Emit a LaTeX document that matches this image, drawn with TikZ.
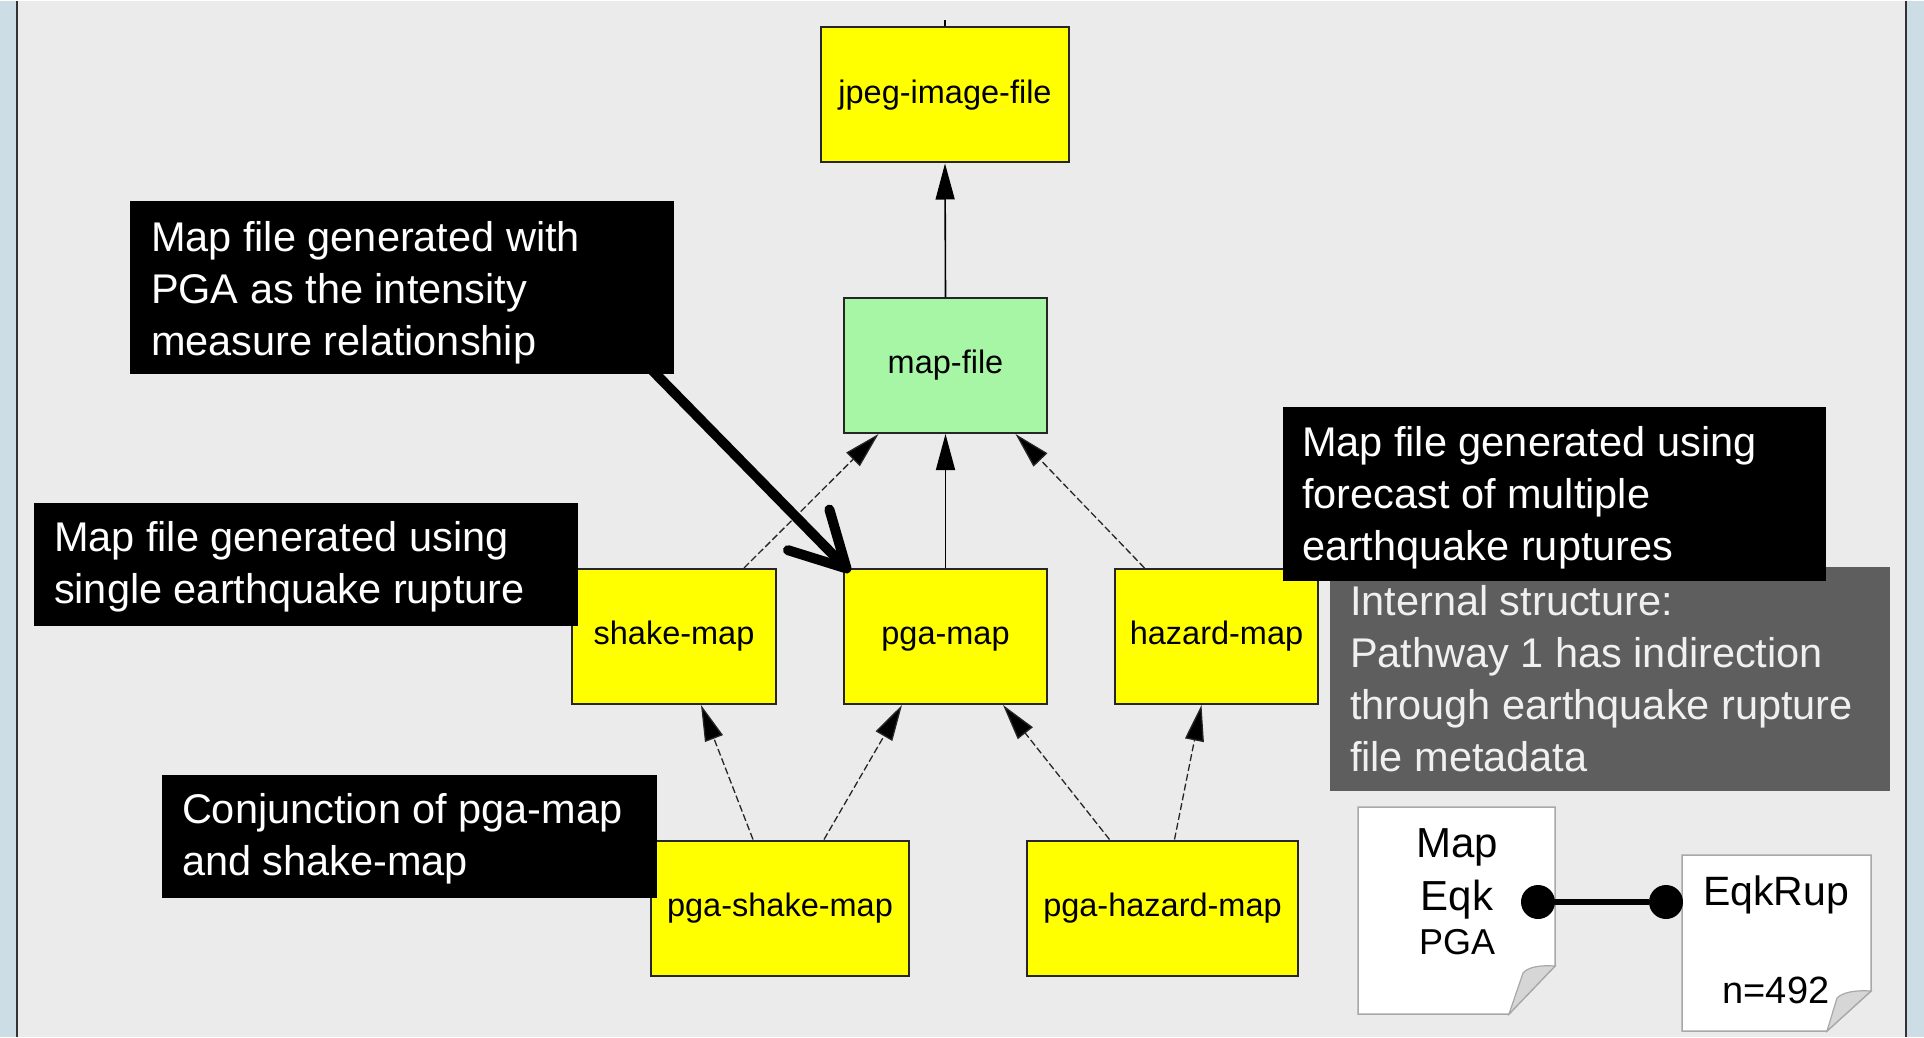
\documentclass[tikz,border=0pt]{standalone}
\usepackage{fontspec}
\setmainfont{Liberation Sans}
\usetikzlibrary{arrows.meta}

\definecolor{framebg}{HTML}{CCDDE5}
\definecolor{panelbg}{HTML}{EBEBEB}
\definecolor{nodeyellow}{HTML}{FFFF00}
\definecolor{nodegreen}{HTML}{A6F6A6}
\definecolor{notegray}{HTML}{5E5E5E}
\definecolor{paperedge}{HTML}{A8A8A8}
\definecolor{foldgray}{HTML}{D6D6D6}

\begin{document}
\begin{tikzpicture}[x=1pt,y=-1pt,
  artifact/.style={draw=black!85, line width=2pt, minimum width=#1,
    minimum height=135pt, inner sep=0pt, text=black,
    text height=23.7pt, text depth=6.8pt,
    font=\fontsize{32.5}{39}\selectfont},
  dep/.style={line width=1.6pt, draw=black,
    -{Triangle[length=36pt,width=19pt]}},
  depdash/.style={line width=1.3pt, draw=black!85, dash pattern=on 7pt off 3pt,
    -{Triangle[length=36pt,width=19pt,fill=black]}},
  notebox/.style={fill=#1, inner sep=0pt},
  notetext/.style={text=#1, align=left, inner sep=0pt,
    font=\fontsize{41.5}{52}\selectfont},
  pointer/.style={line width=10pt, draw=black,
    -{Straight Barb[length=54pt,width=58pt,round]}},
  paper/.style={fill=white, draw=paperedge, line width=1.5pt},
  curl/.style={fill=foldgray, draw=paperedge, line width=1.2pt},
  doctext/.style={anchor=base, text=black},
  pin/.style={circle, fill=black, minimum size=34pt, inner sep=0pt}
]
% frame and panel
\fill[framebg] (0,0) rectangle (1924,1036);
\fill[panelbg] (17,0) rectangle (1906,1036);
\draw[line width=2pt, black!80] (17,0) -- (17,1036) (1906,0) -- (1906,1036);
\useasboundingbox (0,0) rectangle (1924,1036);

% dependency graph
\node[artifact=248pt, fill=nodeyellow] (jpeg) at (945,94) {jpeg-image-file};
\node[artifact=203pt, fill=nodegreen] (mapfile) at (945.5,364.5) {map-file};
\node[artifact=204pt, fill=nodeyellow] (shake) at (674,635.5) {shake-map};
\node[artifact=203pt, fill=nodeyellow] (pga) at (945.5,635.5) {pga-map};
\node[artifact=203pt, fill=nodeyellow] (hazard) at (1216.5,635.5) {hazard-map};
\node[artifact=258pt, fill=nodeyellow] (pgashake) at (780,907) {pga-shake-map};
\node[artifact=271pt, fill=nodeyellow] (pgahazard) at (1162.5,907) {pga-hazard-map};

\coordinate (upstream) at (945,19);
\draw[line width=1.6pt] (jpeg.north) -- (upstream);

\draw[dep] (mapfile.north) -- (jpeg.south);
\draw[depdash] ([xshift=70pt]shake.north) -- ([xshift=-67pt]mapfile.south);
\draw[dep] (pga.north) -- (mapfile.south);
\draw[depdash] ([xshift=-72pt]hazard.north) -- ([xshift=70pt]mapfile.south);
\draw[depdash] ([xshift=-27pt]pgashake.north) -- ([xshift=27pt]shake.south);
\draw[depdash] ([xshift=44pt]pgashake.north) -- ([xshift=-43.5pt]pga.south);
\draw[depdash] ([xshift=-53pt]pgahazard.north) -- ([xshift=57.5pt]pga.south);
\draw[depdash] ([xshift=12pt]pgahazard.north) -- ([xshift=-15pt]hazard.south);

% annotations: a box, then its text block set from the box's left edge
\node[notebox=black, minimum width=544pt, minimum height=173pt] (c1) at (402,286.5) {};
\node[notetext=white, anchor=west] (c1t) at ([xshift=21pt,yshift=-5.5pt]c1.west)
  {Map file generated with\\PGA as the intensity\\measure relationship};
\draw[pointer] ([xshift=-26pt,yshift=8pt]c1.south east)
  -- ([xshift=7pt,yshift=-4pt]pga.north west);

\node[notebox=black, minimum width=544pt, minimum height=123pt] (c2) at (306,563.5) {};
\node[notetext=white, anchor=west] (c2t) at ([xshift=20pt,yshift=-2.5pt]c2.west)
  {Map file generated using\\single earthquake rupture};

\node[notebox=black, minimum width=495pt, minimum height=123pt] (c3) at (409.5,835.5) {};
\node[notetext=white, anchor=west] (c3t) at ([xshift=20pt,yshift=-2.5pt]c3.west)
  {Conjunction of pga-map\\and shake-map};

\node[notebox=notegray, minimum width=560pt, minimum height=224pt] (c5) at (1610,678) {};
\node[notetext=white!94!black, anchor=west] (c5t) at ([xshift=20pt]c5.west)
  {Internal structure:\\Pathway 1 has indirection\\through earthquake rupture\\file metadata};

\node[notebox=black, minimum width=543pt, minimum height=174pt] (c4) at (1554.5,493) {};
\node[notetext=white, anchor=west] (c4t) at ([xshift=19pt,yshift=-3.5pt]c4.west)
  {Map file generated using\\forecast of multiple\\earthquake ruptures};

% file icons
\draw[paper] (1358,806) -- (1555,806) -- (1555,965) -- (1509,1013)
  -- (1358,1013) -- cycle;
\draw[curl] (1555,965) .. controls (1540,964) and (1528,966) .. (1523,972)
  -- (1509,1013) -- cycle;
\draw[paper] (1682,854) -- (1871,854) -- (1871,990) -- (1827,1030)
  -- (1682,1030) -- cycle;
\draw[curl] (1871,990) .. controls (1856,989) and (1843,991) .. (1837,997)
  -- (1827,1030) -- cycle;

\node[doctext, font=\fontsize{42}{50}\selectfont] (tmap) at (1457,856) {Map};
\node[doctext, font=\fontsize{42}{50}\selectfont] (teqk) at (1457,909) {Eqk};
\node[doctext, font=\fontsize{36}{43}\selectfont] (tpga) at (1457,953) {PGA};
\node[doctext, font=\fontsize{41}{49}\selectfont] (trup) at (1776,904) {EqkRup};
\node[doctext, font=\fontsize{38}{46}\selectfont] (tcount) at (1776,1002) {n=492};

\node[pin] (pin1) at (1538,901) {};
\node[pin] (pin2) at (1666,901) {};
\draw[line width=6pt] (pin1) -- (pin2);
\end{tikzpicture}
\end{document}
